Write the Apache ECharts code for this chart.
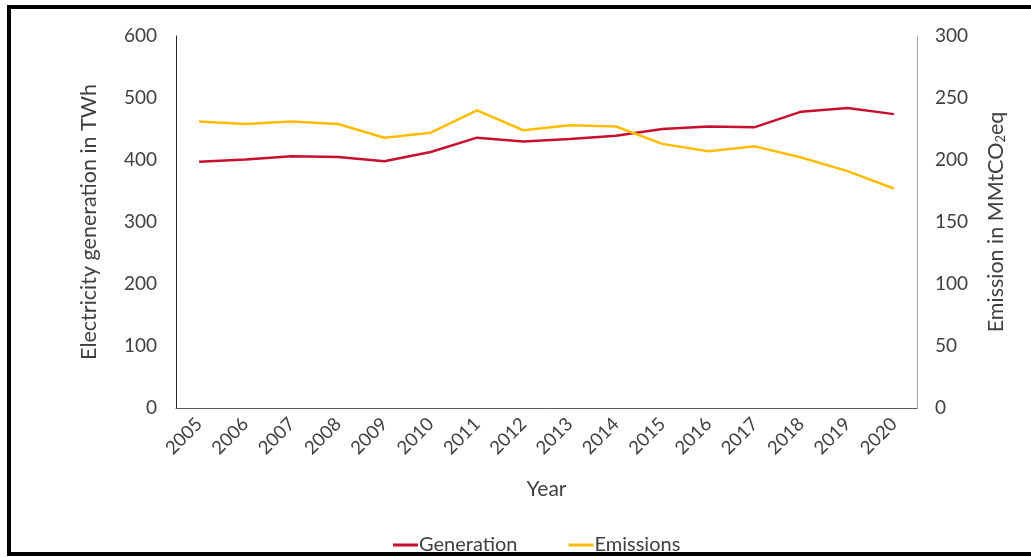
<!DOCTYPE html>
<html>
<head>
<meta charset="utf-8">
<script src="https://cdn.jsdelivr.net/npm/echarts@6/dist/echarts.min.js"></script>
<style>
  html, body { margin: 0; padding: 0; background: #fff; }
  #chart { width: 1031px; height: 557px; }
</style>
</head>
<body>
<div id="chart"></div>
<script>
// data
var years = ['2005', '2006', '2007', '2008', '2009', '2010', '2011', '2012',
  '2013', '2014', '2015', '2016', '2017', '2018', '2019', '2020'];
var generation = [397, 401, 406, 405, 398, 413, 436, 430, 434, 439, 450, 454, 453, 478, 484, 474];
var emissions = [231, 229, 231, 229, 218, 222, 240, 224, 228, 227, 213, 207, 211, 202, 191, 177];

var txt = '#404040';
var font = 'Lato';

var myChart = echarts.init(document.getElementById('chart'));

var option = {
  backgroundColor: '#fff',
  animation: false,
  textStyle: { fontFamily: font },
  grid: { left: 176, right: 114, top: 36, bottom: 149 },
  legend: {
    left: 388,
    top: 530,
    itemGap: 51,
    itemWidth: 25,
    itemHeight: 3,
    icon: 'rect',
    textStyle: { fontSize: 20, color: txt, fontFamily: font, padding: [0, 0, 0, -4] },
    data: ['Generation', 'Emissions']
  },
  xAxis: {
    type: 'category',
    data: years,
    boundaryGap: true,
    name: 'Year',
    nameLocation: 'middle',
    nameGap: 71,
    nameTextStyle: { fontSize: 21, color: txt },
    axisLine: { lineStyle: { color: '#595959', width: 1 } },
    axisTick: { show: false },
    axisLabel: { rotate: 45, fontSize: 18.5, color: txt, margin: 13, interval: 0 }
  },
  yAxis: [
    {
      type: 'value',
      min: 0, max: 600, interval: 100,
      name: 'Electricity generation in TWh',
      nameLocation: 'middle',
      nameRotate: 90,
      nameGap: 76,
      nameTextStyle: { fontSize: 21.5, color: txt },
      axisLine: { show: true, lineStyle: { color: '#262626', width: 1 } },
      axisTick: { show: false },
      splitLine: { show: false },
      axisLabel: { fontSize: 19, color: txt, margin: 19 }
    },
    {
      type: 'value',
      min: 0, max: 300, interval: 50,
      name: 'Emission in MMtCO{sub|2}eq',
      nameLocation: 'middle',
      nameRotate: 90,
      nameGap: 68,
      nameTextStyle: {
        fontSize: 21.5, color: txt,
        rich: { sub: { fontSize: 13, color: txt, fontFamily: font, verticalAlign: 'bottom', padding: [9, 0, 0, 0] } }
      },
      axisLine: { show: true, lineStyle: { color: '#A6A6A6', width: 1 } },
      axisTick: { show: false },
      splitLine: { show: false },
      axisLabel: { fontSize: 19, color: txt, margin: 18 }
    }
  ],
  series: [
    {
      name: 'Generation',
      type: 'line',
      yAxisIndex: 0,
      data: generation,
      symbol: 'none',
      itemStyle: { color: '#C8102E' },
      lineStyle: { color: '#C8102E', width: 2.5 }
    },
    {
      name: 'Emissions',
      type: 'line',
      yAxisIndex: 1,
      data: emissions,
      symbol: 'none',
      itemStyle: { color: '#FFBC00' },
      lineStyle: { color: '#FFBC00', width: 2.5 }
    }
  ],
  graphic: [
    {
      type: 'rect',
      z: 100,
      silent: true,
      shape: { x: 9, y: 7, width: 1060, height: 547 },
      style: { fill: 'none', stroke: '#000', lineWidth: 4 }
    }
  ]
};

myChart.setOption(option);
</script>
</body>
</html>
